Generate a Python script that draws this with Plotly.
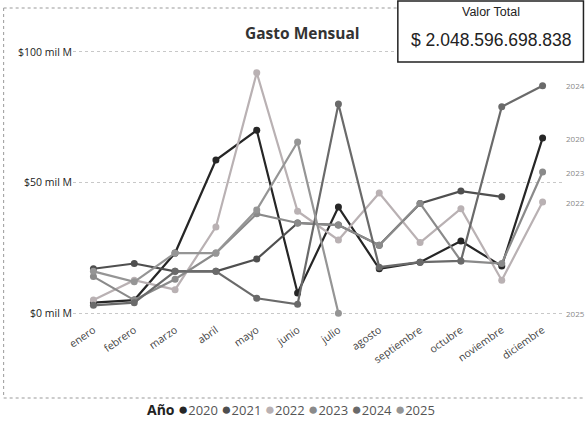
import plotly.graph_objects as go

months = ["enero", "febrero", "marzo", "abril", "mayo", "junio", "julio",
          "agosto", "septiembre", "octubre", "noviembre", "diciembre"]

# values in "mil M" (billions of pesos)
y2020 = [4, 5, 23, 58.6, 70, 7.7, 40.6, 17, 19.5, 27.6, 18, 67]
y2021 = [17, 19, 16, 16, 20.7, 34.5, 33.7, 26, 42, 46.7, 44.5, None]
y2022 = [5, 12.6, 9, 33, 92, 39, 28, 46, 27, 40, 12.6, 42.5]
y2023 = [14, 5, 13, 23, 38, 34.5, 33.7, 26, 42, 20, 19, 54]
y2024 = [3, 4, 16, 16, 5.7, 3.4, 80, 17.6, 19.5, 20, 79, 87]
y2025 = [16, 12, 23, 23, 39.5, 65.5, 0]

years = ["2020", "2021", "2022", "2023", "2024", "2025"]
series = [y2020, y2021, y2022, y2023, y2024, y2025]
colors = ["#262626", "#4f4f4f", "#b9b1b3", "#8a8a8a", "#6a6a6a", "#959595"]

ytick_vals = [0, 50, 100]
ytick_text = ["$0 mil M", "$50 mil M", "$100 mil M"]
total_text = "$ 2.048.596.698.838"

W, H = 585, 432
L, R, T, B = 72.5, 21.5, 44, 111
PW, PH = W - L - R, H - T - B


def px(x):
    return (x - L) / PW


def py(y):
    return (H - B - y) / PH


fig = go.Figure()
for name, vals, col in zip(years, series, colors):
    fig.add_trace(go.Scatter(
        x=months[:len(vals)], y=vals, name=name, mode="lines+markers",
        line=dict(color=col, width=2.2),
        marker=dict(color=col, size=7),
        showlegend=False, connectgaps=False,
    ))

shapes = [
    # outer dotted frame
    dict(type="line", xref="paper", yref="paper", x0=px(3), x1=px(3), y0=py(8), y1=py(398),
         line=dict(color="#999", width=1, dash="dot")),
    dict(type="line", xref="paper", yref="paper", x0=px(3), x1=px(398), y0=py(8), y1=py(8),
         line=dict(color="#999", width=1, dash="dot")),
    dict(type="line", xref="paper", yref="paper", x0=px(3), x1=px(585), y0=py(398), y1=py(398),
         line=dict(color="#999", width=1, dash="dot")),
    # total box
    dict(type="rect", xref="paper", yref="paper", x0=px(398), x1=px(584), y0=py(1), y1=py(62),
         line=dict(color="#222", width=1.5), fillcolor="white", layer="above"),
]

annotations = [
    dict(text="Valor Total", xref="paper", yref="paper", x=px(491), y=py(12),
         showarrow=False, font=dict(size=12.5, color="#222", family="Liberation Sans"),
         xanchor="center", yanchor="middle"),
    dict(text=total_text, xref="paper", yref="paper", x=px(492), y=py(40),
         showarrow=False, font=dict(size=17.5, color="#222", family="Liberation Sans"),
         xanchor="center", yanchor="middle"),
    dict(text="<b>Gasto Mensual</b>", xref="paper", yref="paper", x=px(302), y=py(33),
         showarrow=False, font=dict(size=15.5, color="#333", family="Open Sans"),
         xanchor="center", yanchor="middle"),
]

# legend as text
leg = "<b style='color:#222;font-size:14px'>Año</b> " + " ".join(
    f"<span style='color:{c};font-size:17px'>●</span>{y}" for y, c in zip(years, colors))
annotations.append(dict(text=leg, xref="paper", yref="paper", x=px(291), y=py(408),
                        showarrow=False, font=dict(size=13, color="#555", family="Open Sans"),
                        xanchor="center", yanchor="middle"))

# series end labels at right
end_labels = [("2024", 87), ("2020", 67), ("2023", 54), ("2022", 42.5), ("2025", 0)]
for name, v in end_labels:
    annotations.append(dict(text=name, xref="paper", yref="y", x=1, y=v, xshift=1,
                            xanchor="left", yanchor="middle", showarrow=False,
                            font=dict(size=8, color="#888", family="Open Sans")))

fig.update_layout(
    width=W, height=H, autosize=False,
    margin=dict(l=L, r=R, t=T, b=B),
    paper_bgcolor="white", plot_bgcolor="white",
    font=dict(family="Open Sans", color="#333"),
    shapes=shapes, annotations=annotations,
    showlegend=False,
    xaxis=dict(type="category", categoryorder="array", categoryarray=months,
               range=[-0.5, 11.5], tickangle=-35, showgrid=False, zeroline=False,
               showline=False, ticks="", tickfont=dict(size=10.5, color="#444")),
    yaxis=dict(range=[-3, 103], tickvals=ytick_vals, ticktext=ytick_text,
               showgrid=True, gridcolor="#c8c8c8", griddash="dot", gridwidth=1,
               zeroline=False, showline=False, ticks="",
               tickfont=dict(size=10.5, color="#222")),
)

fig.write_html("out.html", config={"displayModeBar": False},
               post_script="document.body.style.margin='0';")
